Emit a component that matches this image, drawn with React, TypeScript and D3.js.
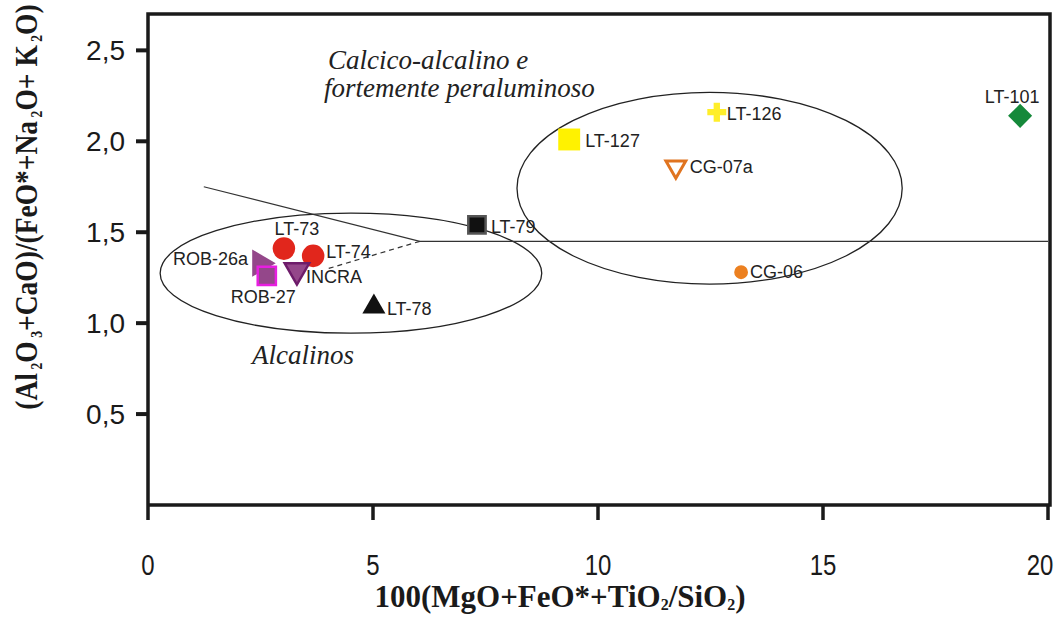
import * as d3 from 'd3';

// samples
const sampleNames = ['LT-73', 'LT-74', 'ROB-26a', 'ROB-27', 'INCRA', 'LT-78', 'LT-79', 'LT-127', 'LT-126', 'CG-07a', 'CG-06', 'LT-101'];
const xValues = [3.02, 3.67, 2.49, 2.64, 3.31, 5.02, 7.31, 9.36, 12.64, 11.73, 13.18, 19.38];
const yValues = [1.41, 1.37, 1.33, 1.26, 1.29, 1.09, 1.54, 2.01, 2.16, 1.86, 1.28, 2.14];

// boundary lines (solid + dashed extension)
const boundaryX = [1.24, 6.04, 20];
const boundaryY = [1.75, 1.45, 1.45];
const dashedX = [6.04, 4.0];
const dashedY = [1.45, 1.3];

// fields (ellipses) in data units
const fieldCx = [4.51, 12.48];
const fieldCy = [1.275, 1.742];
const fieldRx = [4.24, 4.28];
const fieldRy = [0.33, 0.527];

const xTicks = [0, 5, 10, 15, 20];
const yTicks = [0.5, 1.0, 1.5, 2.0, 2.5];

const width = 1056;
const height = 617;
const margin = { top: 14, right: 6, bottom: 112, left: 148 };

const sans = '"Liberation Sans", Arial, sans-serif';
const serif = '"Liberation Serif", "Times New Roman", serif';

// marker style per sample: symbol, size, fill, stroke, rotate, label offset/anchor
const markerStyle: Record<string, any> = {
  'LT-73': { sym: d3.symbolCircle, size: 400, fill: '#e1261c', stroke: 'none', rot: 0, dx: 13, dy: -14, anchor: 'middle' },
  'LT-74': { sym: d3.symbolCircle, size: 400, fill: '#e1261c', stroke: 'none', rot: 0, dx: 13, dy: 2, anchor: 'start' },
  'ROB-26a': { sym: d3.symbolTriangle, size: 320, fill: '#94478a', stroke: 'none', rot: 90, dx: -12, dy: 2, anchor: 'end' },
  'ROB-27': { sym: d3.symbolSquare, size: 330, fill: '#94478a', stroke: '#e81ee0', rot: 0, dx: -36, dy: 27, anchor: 'start' },
  'INCRA': { sym: d3.symbolTriangle, size: 260, fill: '#94478a', stroke: '#6e1c6a', rot: 180, dx: 9, dy: 13, anchor: 'start' },
  'LT-78': { sym: d3.symbolTriangle, size: 230, fill: '#111', stroke: 'none', rot: 0, dx: 13, dy: 8, anchor: 'start' },
  'LT-79': { sym: d3.symbolSquare, size: 300, fill: '#111', stroke: '#555', rot: 0, dx: 14, dy: 8, anchor: 'start' },
  'LT-127': { sym: d3.symbolSquare, size: 480, fill: '#fff200', stroke: 'none', rot: 0, dx: 16, dy: 8, anchor: 'start' },
  'LT-126': { sym: d3.symbolCross, size: 200, fill: '#ffee2a', stroke: 'none', rot: 0, dx: 10, dy: 8, anchor: 'start' },
  'CG-07a': { sym: d3.symbolTriangle, size: 170, fill: 'none', stroke: '#e07420', rot: 180, dx: 14, dy: 6, anchor: 'start', sw: 3 },
  'CG-06': { sym: d3.symbolCircle, size: 150, fill: '#ec8020', stroke: 'none', rot: 0, dx: 9, dy: 6, anchor: 'start' },
  'LT-101': { sym: d3.symbolSquare, size: 290, fill: '#15893a', stroke: 'none', rot: 45, dx: -8, dy: -13, anchor: 'middle' },
};

export default function App() {
  const x = d3.scaleLinear().domain([0, 20]).range([margin.left, 1048]);
  const y = d3.scaleLinear().domain([0, 2.7]).range([505, margin.top]);

  const line = d3
    .line<number>()
    .x((d, i) => x(boundaryX[i]))
    .y((d, i) => y(boundaryY[i]));
  const dashLine = d3
    .line<number>()
    .x((d, i) => x(dashedX[i]))
    .y((d, i) => y(dashedY[i]));

  const fmt = (v: number) => v.toFixed(1).replace('.', ',');

  return (
    <svg width={width} height={height} style={{ position: 'absolute', left: 0, top: 0, background: '#fff' }}>
      {/* fields */}
      {fieldCx.map((cx, i) => (
        <ellipse
          key={'f' + i}
          cx={x(cx)}
          cy={y(fieldCy[i])}
          rx={x(fieldRx[i]) - x(0)}
          ry={y(0) - y(fieldRy[i])}
          fill="none"
          stroke="#222"
          strokeWidth={1.3}
        />
      ))}
      <path d={line(boundaryX) || ''} fill="none" stroke="#333" strokeWidth={1.2} />
      <path d={dashLine(dashedX) || ''} fill="none" stroke="#333" strokeWidth={1.2} strokeDasharray="5,4" />

      {/* field names */}
      <text x={328} y={69} fontFamily={serif} fontStyle="italic" fontSize={27} fill="#222">
        Calcico-alcalino e
      </text>
      <text x={324} y={97} fontFamily={serif} fontStyle="italic" fontSize={27} fill="#222">
        fortemente peraluminoso
      </text>
      <text x={252} y={364} fontFamily={serif} fontStyle="italic" fontSize={27} fill="#222">
        Alcalinos
      </text>

      {/* samples */}
      {sampleNames.map((name, i) => {
        const s = markerStyle[name];
        const px = x(xValues[i]);
        const py = y(yValues[i]);
        return (
          <g key={name}>
            <path
              d={d3.symbol().type(s.sym).size(s.size)() || ''}
              transform={`translate(${px},${py}) rotate(${s.rot})`}
              fill={s.fill}
              stroke={s.stroke}
              strokeWidth={s.sw || 2.5}
            />
            <text x={px + s.dx} y={py + s.dy} textAnchor={s.anchor} fontFamily={sans} fontSize={18} fill="#222">
              {name}
            </text>
          </g>
        );
      })}

      {/* frame */}
      <path
        d={`M${x(0)},${y(0)}V${margin.top}H1050V${y(0)}H${x(0)}`}
        fill="none"
        stroke="#1a1a1a"
        strokeWidth={3.5}
      />
      {yTicks.map((t) => (
        <g key={'y' + t}>
          <line x1={x(0) - 12} x2={x(0)} y1={y(t)} y2={y(t)} stroke="#1a1a1a" strokeWidth={4} />
          <text x={125} y={y(t) + 10} textAnchor="end" fontFamily={sans} fontSize={28} fill="#1a1a1a">
            {fmt(t)}
          </text>
        </g>
      ))}
      {xTicks.map((t) => (
        <g key={'x' + t}>
          <line x1={x(t)} x2={x(t)} y1={y(0)} y2={y(0) + 15} stroke="#1a1a1a" strokeWidth={3.5} />
          <text
            transform={`translate(${Math.min(x(t), 1040)},575) scale(0.8,1)`}
            textAnchor="middle"
            fontFamily={sans}
            fontSize={30}
            fill="#1a1a1a"
          >
            {t}
          </text>
        </g>
      ))}

      {/* axis titles */}
      <text x={560} y={607} textAnchor="middle" fontFamily={serif} fontWeight="bold" fontSize={31} fill="#1a1a1a">
        100(MgO+FeO*+TiO<tspan fontSize={16} dy={3}>2</tspan>
        <tspan dy={-3}>/SiO</tspan>
        <tspan fontSize={16} dy={3}>2</tspan>
        <tspan dy={-3}>)</tspan>
      </text>
      <text
        transform="translate(37,207) rotate(-90) scale(0.86,1)"
        textAnchor="middle"
        fontFamily={serif}
        fontWeight="bold"
        fontSize={32}
        fill="#1a1a1a"
      >
        (Al<tspan fontSize={16} dy={5}> 2</tspan>
        <tspan dy={-5}>O</tspan>
        <tspan fontSize={16} dy={5}> 3</tspan>
        <tspan dy={-5}>+CaO)/(FeO*+Na</tspan>
        <tspan fontSize={16} dy={5}> 2</tspan>
        <tspan dy={-5}>O+ K</tspan>
        <tspan fontSize={16} dy={5}> 2</tspan>
        <tspan dy={-5}>O)</tspan>
      </text>
    </svg>
  );
}
